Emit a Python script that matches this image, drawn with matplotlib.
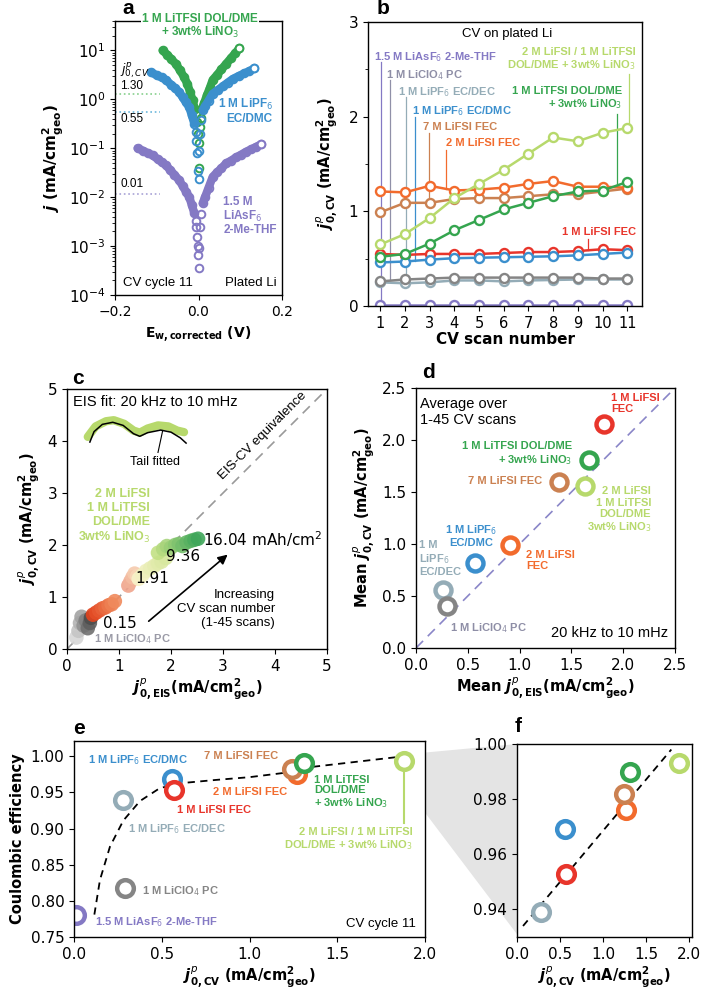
import numpy as np
import matplotlib.pyplot as plt
from matplotlib.colors import LinearSegmentedColormap
from matplotlib.patches import Polygon

plt.rcParams['font.family'] = 'DejaVu Sans'
plt.rcParams['font.size'] = 10
plt.rcParams['axes.linewidth'] = 1.0
ANN = 'Liberation Sans'

# colours of each electrolyte
c_dkgreen = '#35a54f'
c_ltgreen = '#b7d96c'
c_blue = '#3b8fcd'
c_red = '#e8352b'
c_orange = '#f26b2d'
c_brown = '#cb8151'
c_grayblue = '#94acb7'
c_gray = '#858585'
c_purple = '#8479c4'

# ---------------- panel a : CV cycle 11 on plated Li
green_E = [-0.086, -0.075, -0.065, -0.054, -0.045, -0.035, -0.027, -0.020, -0.014, -0.009,
           -0.006, -0.004, -0.002, 0.000, 0.002, 0.004, 0.006, 0.010, 0.014, 0.020,
           0.027, 0.034, 0.045, 0.055, 0.066, 0.078, 0.088, 0.098]
green_j = [10.0, 8.2, 6.6, 5.3, 4.0, 2.9, 2.1, 1.4, 0.95, 0.64,
           0.51, 0.34, 0.20, 0.04, 0.13, 0.27, 0.42, 0.70, 0.86, 1.2,
           1.7, 2.5, 3.2, 4.1, 5.3, 7.0, 8.8, 11.0]
blue_E = [-0.114, -0.100, -0.088, -0.078, -0.066, -0.056, -0.046, -0.038, -0.030, -0.022,
          -0.016, -0.010, -0.007, -0.005, -0.003, -0.001, 0.000, 0.002, 0.004, 0.007,
          0.010, 0.016, 0.024, 0.034, 0.046, 0.058, 0.070, 0.082, 0.096, 0.110,
          0.122, 0.134]
blue_j = [3.6, 3.1, 2.8, 2.5, 2.0, 1.7, 1.4, 1.1, 0.87, 0.69,
          0.47, 0.32, 0.22, 0.14, 0.08, 0.035, 0.023, 0.09, 0.20, 0.38,
          0.60, 0.73, 0.94, 1.3, 1.55, 1.84, 2.2, 2.6, 3.0, 3.4,
          3.8, 4.3]
purple_E = [-0.146, -0.134, -0.122, -0.110, -0.098, -0.088, -0.078, -0.068, -0.058, -0.046,
            -0.038, -0.030, -0.022, -0.016, -0.010, -0.007, -0.005, -0.003, -0.002, -0.001,
            0.000, 0.001, 0.003, 0.006, 0.010, 0.016, 0.024, 0.034, 0.044, 0.055,
            0.066, 0.078, 0.090, 0.102, 0.114, 0.126, 0.138, 0.150]
purple_j = [0.100, 0.090, 0.080, 0.072, 0.060, 0.052, 0.045, 0.036, 0.029, 0.022,
            0.017, 0.013, 0.010, 0.0069, 0.0047, 0.0033, 0.0024, 0.0015, 0.0010, 0.00066,
            0.00035, 0.0009, 0.0025, 0.0045, 0.0075, 0.0102, 0.0155, 0.026, 0.032, 0.039,
            0.049, 0.056, 0.065, 0.074, 0.085, 0.095, 0.107, 0.120]
j0_lines = [1.30, 0.55, 0.0115]
j0_labels = ['1.30', '0.55', '0.01']

# ---------------- panel b : j0 vs CV scan number
scan = [1, 2, 3, 4, 5, 6, 7, 8, 9, 10, 11]
b_orange = [1.21, 1.20, 1.27, 1.22, 1.23, 1.25, 1.29, 1.32, 1.26, 1.26, 1.25]
b_brown = [0.99, 1.09, 1.09, 1.13, 1.14, 1.14, 1.16, 1.18, 1.18, 1.21, 1.24]
b_ltgreen = [0.65, 0.76, 0.93, 1.14, 1.29, 1.44, 1.61, 1.78, 1.74, 1.83, 1.88]
b_dkgreen = [0.52, 0.55, 0.66, 0.80, 0.91, 1.02, 1.09, 1.16, 1.21, 1.22, 1.31]
b_red = [0.55, 0.54, 0.55, 0.55, 0.55, 0.56, 0.57, 0.57, 0.58, 0.60, 0.59]
b_blue = [0.46, 0.47, 0.49, 0.505, 0.51, 0.515, 0.52, 0.525, 0.535, 0.55, 0.565]
b_gray = [0.26, 0.28, 0.29, 0.30, 0.30, 0.30, 0.30, 0.30, 0.30, 0.29, 0.29]
b_grayblue = [0.25, 0.24, 0.25, 0.27, 0.27, 0.26, 0.27, 0.275, 0.28, 0.28, 0.28]
b_purple = [0.01, 0.01, 0.01, 0.01, 0.01, 0.01, 0.01, 0.01, 0.01, 0.01, 0.01]

# ---------------- panel c : CV vs EIS, every scan
c_gray_x = [0.18, 0.22, 0.25, 0.28, 0.32, 0.36, 0.40, 0.44, 0.46]
c_gray_y = [0.22, 0.35, 0.50, 0.62, 0.45, 0.55, 0.40, 0.50, 0.60]
c_orng_x = [0.50, 0.56, 0.62, 0.68, 0.74, 0.80, 0.86, 0.92]
c_orng_y = [0.66, 0.70, 0.74, 0.78, 0.80, 0.84, 0.86, 0.92]
c_pink_x = [1.18, 1.22, 1.26, 1.30, 1.35]
c_pink_y = [1.22, 1.30, 1.38, 1.45, 1.40]
c_yell_x = [1.38, 1.45, 1.52, 1.60, 1.68, 1.75, 1.82, 1.90]
c_yell_y = [1.35, 1.42, 1.50, 1.55, 1.60, 1.65, 1.68, 1.75]
c_grn_x = [1.75, 1.85, 1.92, 2.00, 2.08, 2.15, 2.22, 2.30, 2.38, 2.45, 2.52]
c_grn_y = [1.85, 1.92, 1.98, 1.95, 2.00, 2.02, 1.98, 2.05, 2.08, 2.10, 2.12]
inset_green_x = [0.40, 0.55, 0.75, 0.90, 1.10, 1.28, 1.40, 1.55, 1.75, 1.95, 2.12, 2.25]
inset_green_y = [4.08, 4.28, 4.38, 4.40, 4.33, 4.20, 4.16, 4.24, 4.30, 4.28, 4.20, 4.17]
inset_black_x = [0.44, 0.52, 0.68, 0.88, 1.08, 1.28, 1.40, 1.55, 1.80, 2.00, 2.18, 2.29]
inset_black_y = [3.98, 4.18, 4.32, 4.36, 4.30, 4.14, 4.09, 4.16, 4.21, 4.17, 4.06, 3.96]

# ---------------- panel d : means over 1-45 scans
d_names = ['1 M LiFSI FEC', '1 M LiTFSI DOL/DME', '7 M LiFSI FEC', '2 M LiFSI/1 M LiTFSI',
           '2 M LiFSI FEC', '1 M LiPF6 EC/DMC', '1 M LiPF6 EC/DEC', '1 M LiClO4 PC']
d_eis = [1.81, 1.67, 1.38, 1.63, 0.91, 0.57, 0.26, 0.30]
d_cv = [2.15, 1.81, 1.60, 1.56, 0.99, 0.82, 0.56, 0.40]
d_colors = [c_red, c_dkgreen, c_brown, c_ltgreen, c_orange, c_blue, c_grayblue, c_gray]

# ---------------- panel e / f : coulombic efficiency vs j0 (cycle 11)
e_j0 = [0.01, 0.28, 0.29, 0.56, 0.57, 1.27, 1.24, 1.31, 1.88]
e_ce = [0.780, 0.939, 0.818, 0.969, 0.953, 0.976, 0.982, 0.990, 0.993]
e_colors = [c_purple, c_grayblue, c_gray, c_blue, c_red, c_orange, c_brown, c_dkgreen, c_ltgreen]
e_fit_x = [0.116, 0.148, 0.205, 0.281, 0.376, 0.49, 0.623, 0.80, 1.00, 1.20, 1.35, 1.60, 1.92]
e_fit_y = [0.781, 0.829, 0.875, 0.911, 0.938, 0.956, 0.963, 0.967, 0.971, 0.977, 0.985, 0.992, 1.001]
f_fit_x = [0.07, 1.79]
f_fit_y = [0.934, 0.998]

W, H = 704, 990
fig = plt.figure(figsize=(W / 100, H / 100), dpi=100)


def box(l, t, r, b):
    # axes rectangle from pixel edges
    return [l / W, 1 - b / H, (r - l) / W, (b - t) / H]


def ann(ax, x, y, s, color, ha='left', size=8, weight='bold', **kw):
    ax.text(x, y, s, color=color, ha=ha, va='center', fontsize=size,
            fontweight=weight, family=ANN, **kw)


lab_cv = r'$\mathbfit{j}^{\mathit{p}}_{\mathbf{0,CV}}$ (mA/cm$^{\mathbf{2}}_{\mathbf{geo}}$)'
lab_eis = r'$\mathbfit{j}^{\mathit{p}}_{\mathbf{0,EIS}}$(mA/cm$^{\mathbf{2}}_{\mathbf{geo}}$)'

# ===== a
ax = fig.add_axes(box(115, 21, 282, 295))
ax.set_yscale('log')
for E, j, col in [(purple_E, purple_j, c_purple), (green_E, green_j, c_dkgreen),
                  (blue_E, blue_j, c_blue)]:
    E = np.array(E)
    j = np.array(j)
    # solid band where the points crowd together, single rings near the dip
    band = np.where(np.abs(E) >= 0.008, j, np.nan)
    ax.plot(E, band, '-', color=col, lw=6, solid_capstyle='round')
    ax.plot(E, j, 'o', ms=5.5, mfc='none', mec=col, mew=1.4)
    ax.plot(E[-1], j[-1], 'o', ms=5.5, mfc='white', mec=col, mew=1.4)
for val, lab, col, dy in zip(j0_lines, j0_labels, ['#86d08c', '#6cb8dc', '#a8a2d6'],
                             [1.42, 0.71, 1.6]):
    ax.plot([-0.2, -0.093], [val, val], ls=':', color=col, lw=1.2)
    ax.text(-0.188, val * dy, lab, fontsize=8.5, family=ANN, va='center')
ax.text(-0.188, 3.9, r'$j^{p}_{0,CV}$', fontsize=9, va='center')
ax.text(0.004, 31, '1 M LiTFSI DOL/DME\n+ 3wt% LiNO$_3$', color=c_dkgreen, ha='center',
        va='center', fontsize=8.5, fontweight='bold', family=ANN, linespacing=1.0,
        bbox=dict(facecolor='white', edgecolor='none', pad=1), zorder=5, clip_on=False)
ann(ax, 0.178, 0.58, '1 M LiPF$_6$\nEC/DMC', c_blue, ha='right', size=8.5, linespacing=1.05)
ann(ax, 0.059, 0.0041, '1.5 M\nLiAsF$_6$\n2-Me-THF', c_purple, size=8.5, linespacing=1.05)
ann(ax, -0.181, 1.76e-4, 'CV cycle 11', 'black', size=9.5, weight='normal')
ann(ax, 0.186, 1.76e-4, 'Plated Li', 'black', ha='right', size=9.5, weight='normal')
ax.set_xlim(-0.2, 0.2)
ax.set_ylim(1e-4, 40)
ax.set_xticks([-0.2, 0.0, 0.2])
ax.set_ylabel(r'$\mathbfit{j}$ (mA/cm$^{\mathbf{2}}_{\mathbf{geo}}$)', fontsize=11,
              fontweight='bold', labelpad=2)
ax.set_xlabel(r'$\mathbf{E_{w,corrected}}$ (V)', fontsize=10, fontweight='bold')
ax.tick_params(labelsize=11)
ax.tick_params(axis='x', labelsize=10)

# ===== b
ax = fig.add_axes(box(368, 22, 642, 306))
for vals, col in [(b_purple, c_purple), (b_grayblue, c_grayblue), (b_gray, c_gray),
                  (b_red, c_red), (b_blue, c_blue), (b_brown, c_brown),
                  (b_orange, c_orange), (b_dkgreen, c_dkgreen), (b_ltgreen, c_ltgreen)]:
    ax.plot(scan, vals, '-o', color=col, lw=1.8, ms=6.5, mfc='white', mec=col, mew=1.7)
# leader lines: x, top, bottom
leaders = [(1.04, 2.58, 0.01, c_purple), (1.41, 2.39, 0.27, '#9090a8'),
           (2.02, 2.21, 0.24, c_grayblue), (2.42, 2.00, 0.48, c_blue),
           (2.99, 1.83, 1.12, c_brown), (3.64, 1.65, 1.24, c_orange),
           (11.08, 2.45, 1.92, c_ltgreen), (10.59, 2.03, 1.27, c_dkgreen),
           (9.41, 0.71, 0.59, c_red)]
for x, y0, y1, col in leaders:
    ax.plot([x, x], [y0, y1], color=col, lw=0.9, zorder=1)
ann(ax, 4.29, 2.87, 'CV on plated Li', 'black', size=9.5, weight='normal')
ann(ax, 0.76, 2.63, '1.5 M LiAsF$_6$ 2-Me-THF', c_purple)
ann(ax, 1.24, 2.44, '1 M LiClO$_4$ PC', '#8e8ea6')
ann(ax, 1.73, 2.26, '1 M LiPF$_6$ EC/DEC', c_grayblue)
ann(ax, 2.30, 2.06, '1 M LiPF$_6$ EC/DMC', c_blue)
ann(ax, 2.71, 1.89, '7 M LiFSI FEC', c_brown)
ann(ax, 3.68, 1.72, '2 M LiFSI FEC', c_orange)
ann(ax, 11.33, 2.60, '2 M LiFSI / 1 M LiTFSI\nDOL/DME + 3wt% LiNO$_3$', c_ltgreen,
    ha='right', linespacing=1.1)
ann(ax, 10.80, 2.19, '1 M LiTFSI DOL/DME\n+ 3wt% LiNO$_3$', c_dkgreen, ha='right',
    linespacing=1.1)
ann(ax, 11.37, 0.785, '1 M LiFSI FEC', c_red, ha='right')
ax.set_xlim(0.5, 11.6)
ax.set_ylim(0, 3)
ax.set_xticks(scan)
ax.set_yticks([0, 1, 2, 3])
ax.set_yticks([0.5, 1.5, 2.5], minor=True)
ax.tick_params(labelsize=11)
ax.tick_params(axis='x', labelsize=10.5)
ax.set_xlabel('CV scan number', fontsize=11, fontweight='bold', labelpad=1)
ax.set_ylabel(lab_cv, fontsize=10.5, fontweight='bold', labelpad=6)

# ===== c
ax = fig.add_axes(box(67, 389, 327, 649))
ax.axline((0, 0), slope=1, color='#9a9a9a', ls=(0, (6, 4)), lw=1.2, zorder=1)
groups = [(c_gray_x, c_gray_y, '#d6d6d6', '#4e4e4e'),
          (c_orng_x, c_orng_y, '#e2431d', '#f08a5c'),
          (c_pink_x, c_pink_y, '#f0a48c', '#f8d6b8'),
          (c_yell_x, c_yell_y, '#f8f2c8', '#d8e8a0'),
          (c_grn_x, c_grn_y, '#c2e084', '#3fa65a')]
for xs, ys, c0, c1 in groups:
    cmap = LinearSegmentedColormap.from_list('g', [c0, c1])
    ax.scatter(xs, ys, s=110, c=cmap(np.linspace(0, 1, len(xs))), edgecolors='none',
               alpha=0.9, zorder=3)
ax.plot(inset_green_x, inset_green_y, color=c_ltgreen, lw=6, solid_capstyle='round')
ax.plot(inset_black_x, inset_black_y, color='black', lw=1.1)
ax.plot([1.84, 1.75], [4.20, 3.78], color='black', lw=0.8)
ann(ax, 1.7, 3.6, 'Tail fitted', 'black', ha='center', size=9, weight='normal')
ann(ax, 0.12, 4.75, 'EIS fit: 20 kHz to 10 mHz', 'black', size=10.5, weight='normal')
ax.text(3.77, 4.10, 'EIS-CV equivalence', rotation=45, ha='center', va='center',
        fontsize=9.5, family=ANN)
ann(ax, 1.6, 2.55, '2 M LiFSI\n1 M LiTFSI\nDOL/DME\n3wt% LiNO$_3$', c_ltgreen, ha='right',
    size=9, linespacing=1.2)
ax.text(2.62, 2.12, '16.04 mAh/cm$^2$', fontsize=11, va='center', zorder=5)
ax.text(1.9, 1.77, '9.36', fontsize=11, va='center', zorder=5)
ax.text(1.31, 1.35, '1.91', fontsize=11, va='center', zorder=5)
ax.text(0.70, 0.50, '0.15', fontsize=11, va='center', zorder=5)
ann(ax, 0.52, 0.20, '1 M LiClO$_4$ PC', '#9a9aa6', size=8)
ax.annotate('', xy=(3.13, 1.85), xytext=(1.53, 0.5),
            arrowprops=dict(arrowstyle='-|>', color='black', lw=1.2, mutation_scale=14))
ann(ax, 4.0, 0.77, 'Increasing\nCV scan number\n(1-45 scans)', 'black', ha='right',
    size=9.5, weight='normal', linespacing=1.25, multialignment='right')
ax.set_xlim(0, 5)
ax.set_ylim(0, 5)
ax.set_xticks(range(6))
ax.set_yticks(range(6))
ax.tick_params(labelsize=11)
ax.set_xlabel(lab_eis, fontsize=10.5, fontweight='bold', labelpad=2)
ax.set_ylabel(lab_cv, fontsize=10.5, fontweight='bold', labelpad=4)

# ===== d
ax = fig.add_axes(box(416, 388, 675, 648))
ax.axline((0, 0), slope=1, color='#8a86c8', ls=(0, (6, 4)), lw=1.2, zorder=1)
for x, y, col in zip(d_eis, d_cv, d_colors):
    ax.plot(x, y, 'o', ms=11.5, mfc='white', mec=col, mew=3.2)
ann(ax, 0.04, 2.27, 'Average over\n1-45 CV scans', 'black', size=10.5, weight='normal',
    linespacing=1.25)
ann(ax, 1.88, 2.35, '1 M LiFSI\nFEC', c_red, linespacing=1.15)
ann(ax, 1.51, 1.865, '1 M LiTFSI DOL/DME\n+ 3wt% LiNO$_3$', c_dkgreen, ha='right',
    linespacing=1.15)
ann(ax, 1.22, 1.61, '7 M LiFSI FEC', c_brown, ha='right')
ann(ax, 2.27, 1.325, '2 M LiFSI\n1 M LiTFSI\nDOL/DME\n3wt% LiNO$_3$', c_ltgreen, ha='right',
    linespacing=1.15)
ann(ax, 1.06, 0.84, '2 M LiFSI\nFEC', c_orange, linespacing=1.15)
ann(ax, 0.53, 1.08, '1 M LiPF$_6$\nEC/DMC', c_blue, ha='center', linespacing=1.15)
ann(ax, 0.03, 0.86, '1 M\nLiPF$_6$\nEC/DEC', c_grayblue, linespacing=1.15)
ann(ax, 0.33, 0.19, '1 M LiClO$_4$ PC', '#8e8ea6')
ann(ax, 2.43, 0.14, '20 kHz to 10 mHz', 'black', ha='right', size=10.5, weight='normal')
ax.set_xlim(0, 2.5)
ax.set_ylim(0, 2.5)
ax.set_xticks(np.arange(0, 2.6, 0.5))
ax.set_yticks(np.arange(0, 2.6, 0.5))
ax.tick_params(labelsize=11)
ax.set_xlabel(r'Mean $\mathbfit{j}^{\mathit{p}}_{\mathbf{0,EIS}}$(mA/cm$^{\mathbf{2}}_{\mathbf{geo}}$)',
              fontsize=10.5, fontweight='bold', labelpad=2)
ax.set_ylabel(r'Mean $\mathbfit{j}^{\mathit{p}}_{\mathbf{0,CV}}$ (mA/cm$^{\mathbf{2}}_{\mathbf{geo}}$)',
              fontsize=10.5, fontweight='bold', labelpad=4)

# ===== e
ax_e = fig.add_axes(box(74, 741, 425, 937))
ax = ax_e
ax.plot(e_fit_x, e_fit_y, color='black', ls=(0, (4, 3)), lw=1.3, zorder=1)
ax.plot([e_j0[-1], e_j0[-1]], [e_ce[-1], 0.908], color=c_ltgreen, lw=1.5, zorder=1)
for x, y, col in zip(e_j0, e_ce, e_colors):
    ax.plot(x, y, 'o', ms=12, mfc='white', mec=col, mew=3.2)
ann(ax, 0.08, 0.994, '1 M LiPF$_6$ EC/DMC', c_blue)
ann(ax, 0.74, 1.000, '7 M LiFSI FEC', c_brown)
ann(ax, 0.79, 0.951, '2 M LiFSI FEC', c_orange)
ann(ax, 0.585, 0.926, '1 M LiFSI FEC', c_red)
ann(ax, 0.31, 0.899, '1 M LiPF$_6$ EC/DEC', c_grayblue)
ann(ax, 0.39, 0.814, '1 M LiClO$_4$ PC', c_gray)
ann(ax, 0.12, 0.771, '1.5 M LiAsF$_6$ 2-Me-THF', c_purple)
ann(ax, 1.37, 0.950, '1 M LiTFSI\nDOL/DME\n+ 3wt% LiNO$_3$', c_dkgreen, linespacing=1.1)
ann(ax, 1.93, 0.885, '2 M LiFSI / 1 M LiTFSI\nDOL/DME + 3wt% LiNO$_3$', c_ltgreen,
    ha='right', linespacing=1.1)
ann(ax, 1.95, 0.768, 'CV cycle 11', 'black', ha='right', size=9.5, weight='normal')
ax.set_xlim(0, 2.0)
ax.set_ylim(0.75, 1.021)
ax.set_xticks(np.arange(0, 2.01, 0.5))
ax.set_yticks([0.75, 0.80, 0.85, 0.90, 0.95, 1.00])
ax.yaxis.set_major_formatter(plt.FormatStrFormatter('%.2f'))
ax.tick_params(labelsize=11)
ax.set_xlabel(lab_cv, fontsize=10.5, fontweight='bold', labelpad=2)
ax.set_ylabel('Coulombic efficiency', fontsize=10.5, fontweight='bold', labelpad=4)

# ===== f (zoom of e)
ax_f = fig.add_axes(box(517, 744, 692, 937))
ax = ax_f
ax.plot(f_fit_x, f_fit_y, color='black', ls=(0, (4, 3)), lw=1.3, zorder=1)
for x, y, col in zip(e_j0, e_ce, e_colors):
    ax.plot(x, y, 'o', ms=12, mfc='white', mec=col, mew=3.2)
ax.set_xlim(0, 2.03)
ax.set_ylim(0.93, 1.0)
ax.set_xticks(np.arange(0, 2.01, 0.5))
ax.set_yticks([0.94, 0.96, 0.98, 1.00])
ax.yaxis.set_major_formatter(plt.FormatStrFormatter('%.2f'))
ax.tick_params(labelsize=11)
ax.set_xlabel(lab_cv, fontsize=10.5, fontweight='bold', labelpad=2)

# grey wedge joining e and f
corners = [ax_e.transData.transform((2.0, 1.005)), ax_f.transData.transform((0, 1.0)),
           ax_f.transData.transform((0, 0.931)), ax_e.transData.transform((2.0, 0.922))]
corners = fig.transFigure.inverted().transform(corners)
fig.add_artist(Polygon(corners, closed=True, transform=fig.transFigure,
                       facecolor='#e4e4e4', edgecolor='none', zorder=0))

# panel letters
for s, x, y in [('a', 122, 9), ('b', 377, 8), ('c', 72, 379), ('d', 422, 372),
                ('e', 73, 728), ('f', 515, 726)]:
    fig.text(x / W, 1 - y / H, s, fontsize=15, fontweight='bold', family=ANN,
             ha='left', va='center')

fig.savefig('out.png', dpi=100)
